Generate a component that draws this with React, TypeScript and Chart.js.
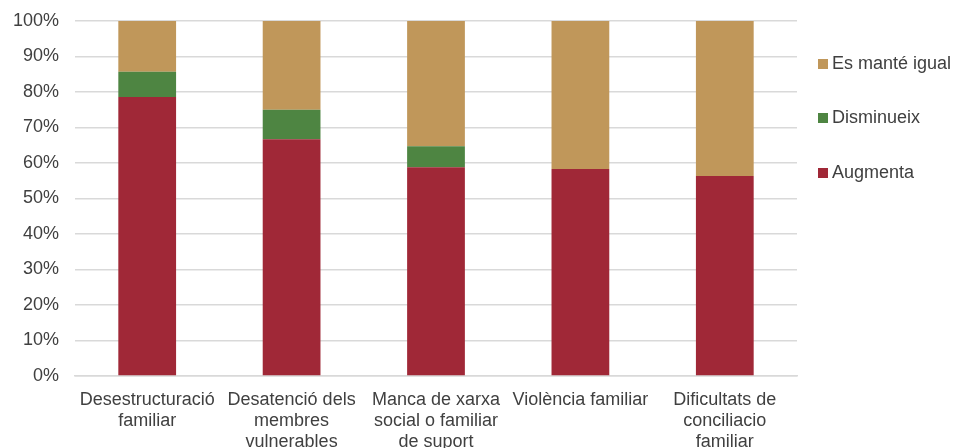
import React, { useEffect, useRef } from "react";
import { Chart, registerables } from "chart.js";

Chart.register(...registerables);

const categories: (string | string[])[] = [
  ["Desestructuració", "familiar"],
  ["Desatenció dels", "membres", "vulnerables"],
  ["Manca de xarxa", "social o familiar", "de suport"],
  ["Violència familiar"],
  ["Dificultats de", "conciliacio", "familiar"],
];
const augmenta = [78.6, 66.7, 58.8, 58.3, 56.3];
const disminueix = [7.1, 8.3, 5.9, 0, 0];
const esManteIgual = [14.3, 25.0, 35.3, 41.7, 43.7];

const seriesNames = ["Augmenta", "Disminueix", "Es manté igual"];
const seriesColors = ["#A02837", "#4E8542", "#C0975A"];
const yTicks = [0, 10, 20, 30, 40, 50, 60, 70, 80, 90, 100];

const FONT = "'Liberation Sans', Arial, sans-serif";
const TEXT = "#404040";
const FS = 18;

const legendPlugin = {
  id: "customLegend",
  afterDraw(chart: any) {
    const ctx = chart.ctx;
    ctx.save();
    ctx.font = `${FS}px ${FONT}`;
    ctx.textBaseline = "middle";
    ctx.textAlign = "left";
    const order = [2, 1, 0];
    const x0 = 818;
    const ys = [64, 118, 173];
    order.forEach((idx, i) => {
      ctx.fillStyle = seriesColors[idx];
      ctx.fillRect(x0, ys[i] - 5, 10, 10);
      ctx.fillStyle = TEXT;
      ctx.fillText(seriesNames[idx], x0 + 14, ys[i]);
    });
    ctx.restore();
  },
};

export default function App() {
  const ref = useRef<HTMLCanvasElement | null>(null);
  useEffect(() => {
    document.body.style.margin = "0";
    const canvas = ref.current!;
    const data = [augmenta, disminueix, esManteIgual];
    const chart = new Chart(canvas, {
      type: "bar",
      data: {
        labels: categories,
        datasets: data.map((d, i) => ({
          label: seriesNames[i],
          data: d,
          backgroundColor: seriesColors[i],
          borderWidth: 0,
          barPercentage: 0.4,
          categoryPercentage: 1,
        })),
      },
      options: {
        animation: false,
        responsive: false,
        maintainAspectRatio: false,
        layout: { padding: { left: 0, right: 161, top: 20, bottom: 0 } },
        plugins: {
          legend: { display: false },
          tooltip: { enabled: false },
        },
        scales: {
          x: {
            stacked: true,
            grid: { display: false, drawTicks: false },
            border: { display: true, color: "#D9D9D9", width: 1.5 },
            ticks: {
              color: TEXT,
              font: { family: FONT, size: FS, lineHeight: 1.15 },
              padding: 14,
              maxRotation: 0,
              autoSkip: false,
            },
            afterFit(scale: any) {
              scale.height = 72;
            },
          },
          y: {
            stacked: true,
            min: 0,
            max: 100,
            afterBuildTicks(scale: any) {
              scale.ticks = yTicks.map((v) => ({ value: v }));
            },
            grid: { color: "#D9D9D9", lineWidth: 1.5, drawTicks: false },
            border: { display: false },
            ticks: {
              color: TEXT,
              font: { family: FONT, size: FS, lineHeight: 0.55 },
              padding: 16,
              callback: (v: any) => `${v}%`,
            },
            afterFit(scale: any) {
              scale.width = 75;
            },
          },
        },
      },
      plugins: [legendPlugin],
    });
    return () => chart.destroy();
  }, []);
  return <canvas ref={ref} width={958} height={448} style={{ display: "block" }} />;
}
